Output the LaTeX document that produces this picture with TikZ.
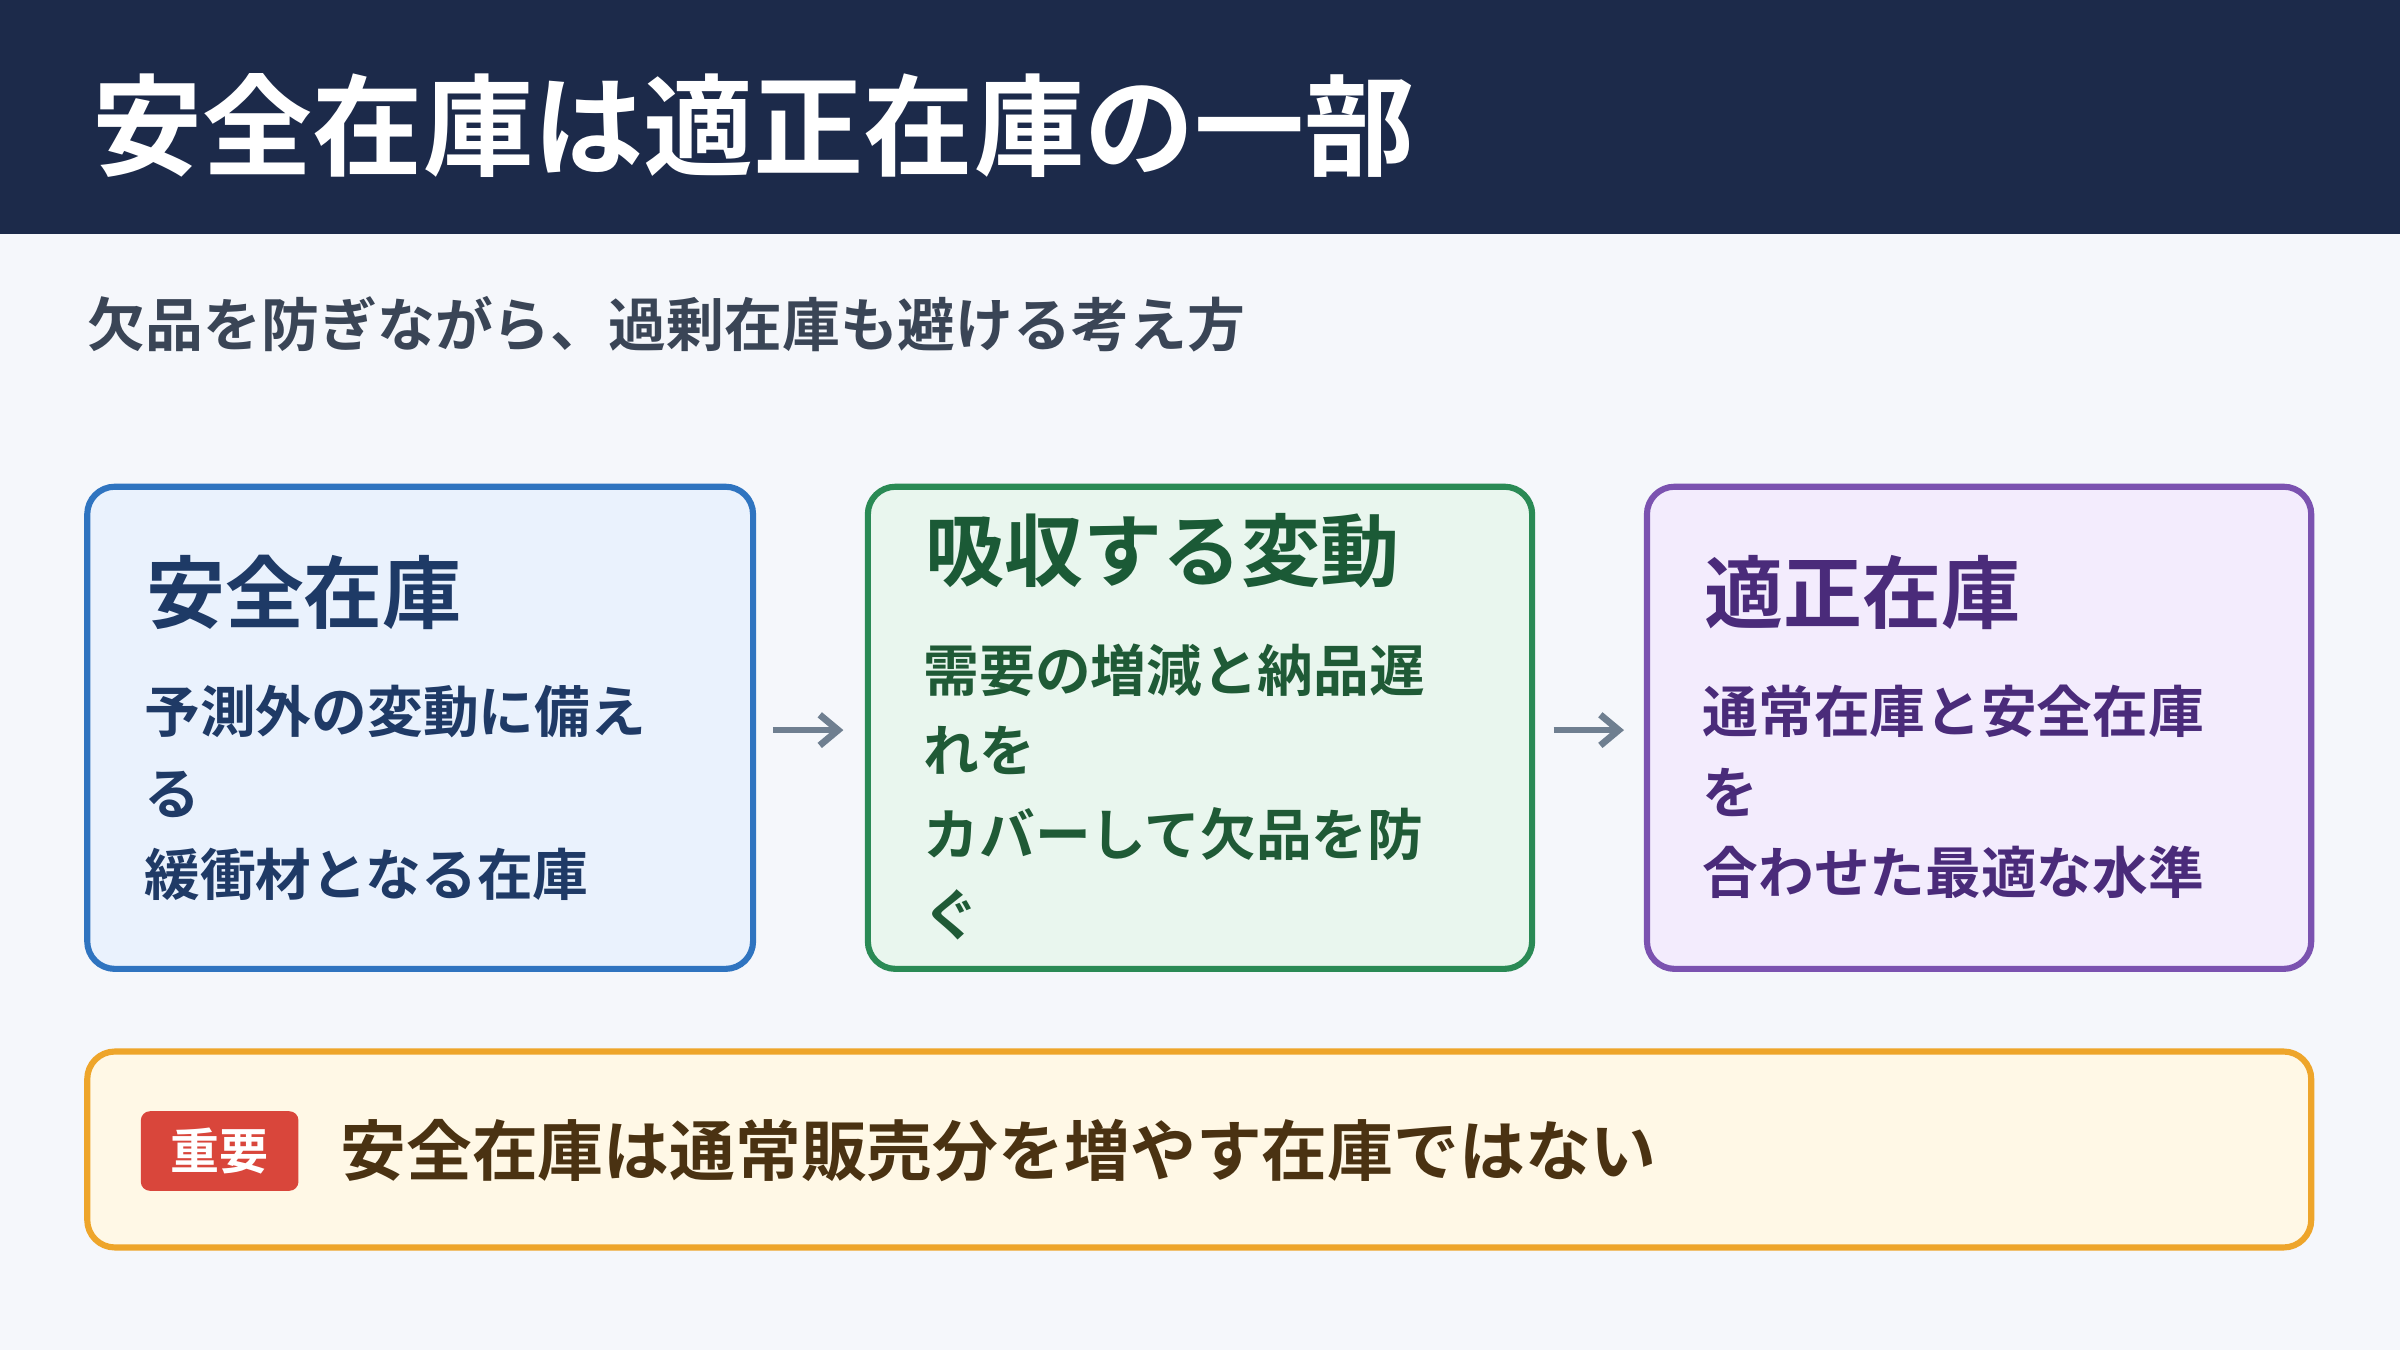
\documentclass[tikz,border=0pt]{standalone}
\usepackage{fontspec}
\setmainfont{Noto Sans CJK JP}[BoldFont={Noto Sans CJK JP Bold}]
\begin{document}
\begin{tikzpicture}[x=0.5pt,y=-0.5pt,
  card/.style={rounded corners=9pt,line width=2pt},
  ttl/.style={anchor=west,font=\fontsize{25.8}{30}\selectfont\bfseries,inner sep=0},
  bod/.style={anchor=west,font=\fontsize{18.2}{20}\selectfont\bfseries,inner sep=0},
  arr/.style={-{Straight Barb[length=6pt,width=10pt,line width=2.2pt]},line width=2.2pt,draw=arrgray}]
\usetikzlibrary{arrows.meta}
\definecolor{bg}{HTML}{F5F7FB}\definecolor{hdr}{HTML}{1C2A4A}
\definecolor{arrgray}{HTML}{6F7F90}
\useasboundingbox (0,0) rectangle (1568,882);
\fill[bg] (0,0) rectangle (1568,882);
\fill[hdr] (0,0) rectangle (1568,153);
\node[anchor=west,inner sep=0,text=white,font=\fontsize{36}{40}\selectfont\bfseries] (title) at (60,82) {安全在庫は適正在庫の一部};
\node[anchor=west,inner sep=0,text={rgb,255:red,58;green,69;blue,86},font=\fontsize{18.9}{22}\selectfont\bfseries] (sub) at (57,212) {欠品を防ぎながら、過剰在庫も避ける考え方};
% box1
\draw[card,draw={rgb,255:red,47;green,116;blue,192},fill={rgb,255:red,234;green,242;blue,253}] (57,318) rectangle (492,633);
\coordinate (b1e) at (492,477);
\node[ttl,text={rgb,255:red,30;green,58;blue,102}] (t1) at (95,387) {安全在庫};
\begin{scope}[every node/.style={bod,text={rgb,255:red,31;green,58;blue,102}}]
\node (l11) at (94,465) {予測外の変動に備え};
\node (l12) at (94,519) {る};
\node (l13) at (94,571) {緩衝材となる在庫};
\end{scope}
% box2
\draw[card,draw={rgb,255:red,42;green,138;blue,85},fill={rgb,255:red,233;green,246;blue,238}] (567,318) rectangle (1001,633);
\coordinate (b2w) at (567,477);\coordinate (b2e) at (1001,477);
\node[ttl,text={rgb,255:red,27;green,90;blue,54}] (t2) at (604,360) {吸収する変動};
\begin{scope}[every node/.style={bod,text={rgb,255:red,31;green,90;blue,54}}]
\node (l21) at (603,438) {需要の増減と納品遅};
\node (l22) at (603,490) {れを};
\node (l23) at (603,545) {カバーして欠品を防};
\node (l24) at (603,598) {ぐ};
\end{scope}
% box3
\draw[card,draw={rgb,255:red,123;green,82;blue,176},fill={rgb,255:red,243;green,236;blue,253}] (1076,318) rectangle (1510,633);
\coordinate (b3w) at (1076,477);
\node[ttl,text={rgb,255:red,74;green,43;blue,122}] (t3) at (1113,387) {適正在庫};
\begin{scope}[every node/.style={bod,text={rgb,255:red,74;green,43;blue,122}}]
\node (l31) at (1112,465) {通常在庫と安全在庫};
\node (l32) at (1112,518) {を};
\node (l33) at (1112,570) {合わせた最適な水準};
\end{scope}
\draw[arr] ([xshift=6.5pt]b1e) -- ([xshift=-8pt]b2w);
\draw[arr] ([xshift=7pt]b2e) -- ([xshift=-7.5pt]b3w);
% bottom
\draw[card,draw={rgb,255:red,238;green,165;blue,42},fill={rgb,255:red,255;green,248;blue,230}] (57,687) rectangle (1510,815);
\node[fill={rgb,255:red,217;green,70;blue,59},rounded corners=3pt,minimum width=51.5pt,minimum height=26pt,text=white,font=\fontsize{16}{18}\selectfont\bfseries,inner sep=0] (badge) at (143.5,752) {重要};
\node[anchor=west,inner sep=0,text={rgb,255:red,74;green,50;blue,18},font=\fontsize{21.5}{24}\selectfont\bfseries] (note) at (222,752) {安全在庫は通常販売分を増やす在庫ではない};
\end{tikzpicture}
\end{document}
